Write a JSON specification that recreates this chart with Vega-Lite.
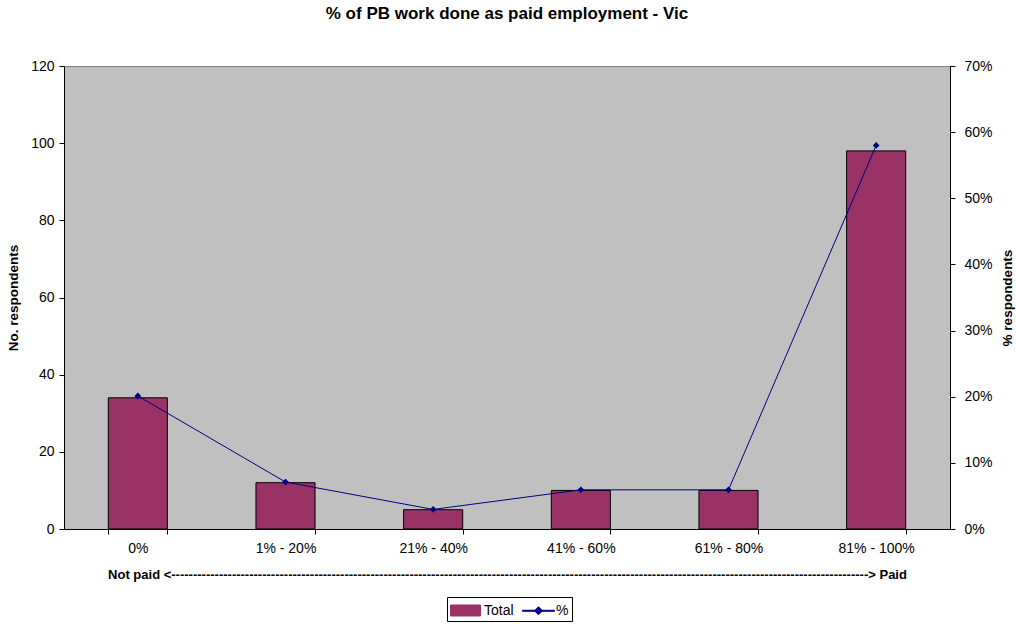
{
  "$schema": "https://vega.github.io/schema/vega-lite/v6.json",
  "width": 886,
  "height": 463,
  "autosize": {"type": "none"},
  "padding": {"left": 64, "top": 66, "right": 66, "bottom": 95},
  "background": "white",
  "config": {
    "font": "Liberation Sans",
    "view": {"fill": "#C0C0C0", "stroke": "#808080", "strokeWidth": 1},
    "axis": {"labelFont": "Liberation Sans", "titleFont": "Liberation Sans", "labelColor": "black", "titleColor": "black", "domainColor": "black", "tickColor": "black", "grid": false, "labelFontSize": 14, "titleFontSize": 13.5, "titleFontWeight": "bold", "tickSize": 5}
  },
  "title": {"text": "% of PB work done as paid employment - Vic", "fontSize": 17, "fontWeight": "bold", "font": "Liberation Sans", "color": "black", "anchor": "middle", "offset": 36},
  "data": {
    "values": [
      {"cat": "0%", "total": 34, "pct": 0.2012},
      {"cat": "1% - 20%", "total": 12, "pct": 0.071},
      {"cat": "21% - 40%", "total": 5, "pct": 0.0296},
      {"cat": "41% - 60%", "total": 10, "pct": 0.0592},
      {"cat": "61% - 80%", "total": 10, "pct": 0.0592},
      {"cat": "81% - 100%", "total": 98, "pct": 0.5799}
    ]
  },
  "encoding": {
    "x": {
      "field": "cat", "type": "nominal", "sort": null,
      "scale": {"paddingInner": 0.6, "paddingOuter": 0.3},
      "axis": {"labelAngle": 0, "tickBand": "extent", "labelPadding": 7, "title": "Not paid <-----------------------------------------------------------------------------------------------------------------------------------------------------------------> Paid", "titleFontSize": 13, "titlePadding": 13}
    }
  },
  "layer": [
    {
      "mark": {"type": "bar", "fill": "#993366", "stroke": "black", "strokeWidth": 1},
      "encoding": {
        "y": {"field": "total", "type": "quantitative", "scale": {"domain": [0, 120]}, "axis": {"values": [0, 20, 40, 60, 80, 100, 120], "title": "No. respondents", "titlePadding": 10, "labelPadding": 5}},
        "color": {"datum": "Total", "type": "nominal", "scale": {"domain": ["Total", "%"], "range": ["#993366", "#000080"]}, "legend": {
          "title": null, "orient": "none", "legendX": 383, "legendY": 531, "direction": "horizontal", "strokeColor": "black", "padding": 3, "labelFontSize": 14, "labelColor": "black", "labelOffset": 13, "columnPadding": 6, "symbolSize": 400,
          "encode": {"symbols": {"update": {
            "shape": {"signal": "datum.value === 'Total' ? 'M-1,-0.55H2V0.55H-1Z' : 'M-1,-0.05H2.2V0.05H-1Z M0.6,-0.4L1,0L0.6,0.4L0.2,0Z'"},
            "fill": {"signal": "datum.value === 'Total' ? '#993366' : '#000080'"},
            "stroke": {"signal": "datum.value === 'Total' ? 'black' : '#000080'"},
            "strokeWidth": {"value": 1},
            "opacity": {"value": 1},
            "fillOpacity": {"value": 1}
          }}}
        }}
      }
    },
    {
      "layer": [
        {"mark": {"type": "line", "stroke": "#000080", "strokeWidth": 1}, "encoding": {"y": {"field": "pct", "type": "quantitative"}, "color": {"datum": "%", "type": "nominal", "legend": {
          "title": null, "orient": "none", "legendX": 383, "legendY": 531, "direction": "horizontal", "strokeColor": "black", "padding": 3, "labelFontSize": 14, "labelColor": "black", "labelOffset": 13, "columnPadding": 6, "symbolSize": 400,
          "encode": {"symbols": {"update": {
            "shape": {"signal": "datum.value === 'Total' ? 'M-1,-0.55H2V0.55H-1Z' : 'M-1,-0.05H2.2V0.05H-1Z M0.6,-0.4L1,0L0.6,0.4L0.2,0Z'"},
            "fill": {"signal": "datum.value === 'Total' ? '#993366' : '#000080'"},
            "stroke": {"signal": "datum.value === 'Total' ? 'black' : '#000080'"},
            "strokeWidth": {"value": 1},
            "opacity": {"value": 1},
            "fillOpacity": {"value": 1}
          }}}
        }}}},
        {"mark": {"type": "point", "shape": "diamond", "filled": true, "size": 45, "fill": "#000080", "opacity": 1}, "encoding": {"y": {"field": "pct", "type": "quantitative"}}}
      ],
      "encoding": {
        "y": {"field": "pct", "type": "quantitative", "scale": {"domain": [0, 0.7]}, "axis": {"orient": "right", "format": ".0%", "values": [0, 0.1, 0.2, 0.3, 0.4, 0.5, 0.6, 0.7], "title": "% respondents", "titleAngle": 270, "titlePadding": 22, "labelPadding": 9}}
      }
    }
  ],
  "resolve": {"scale": {"y": "independent"}}
}
